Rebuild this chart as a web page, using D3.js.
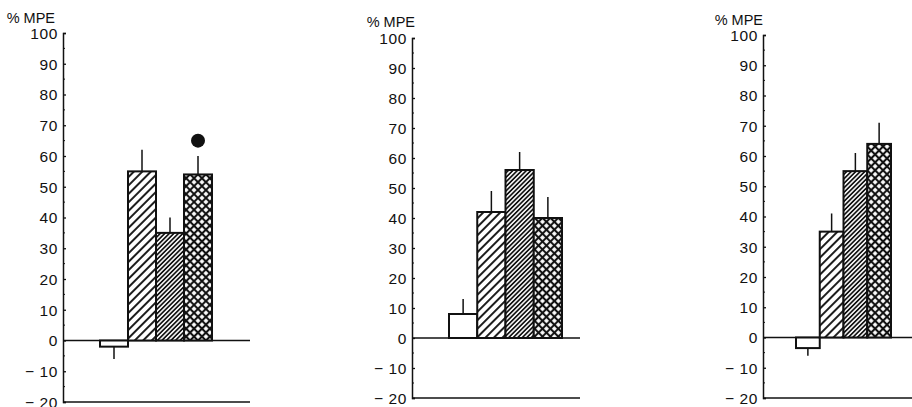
<!DOCTYPE html>
<meta charset="utf-8">
<style>
  body { margin: 0; background: #fff; }
  text { font-family: 'Liberation Sans', Arial, sans-serif; fill: #111; }
</style>
<script src="https://d3js.org/d3.v7.min.js"></script>
<div id="my_dataviz"></div>
<script>

// data
var treatments = ["saline", "dose1", "dose2", "dose3"];
var panelNames = ["A", "B", "C"];
var meansA = [-2, 55, 35, 54];
var meansB = [8, 42, 56, 40];
var meansC = [-3.5, 35, 55, 64];
var semA = [4, 7, 5, 6];
var semB = [5, 7, 6, 7];
var semC = [2.5, 6, 6, 7];
var yTicks = [-20, -10, 0, 10, 20, 30, 40, 50, 60, 70, 80, 90, 100];
var yMinor = [-15, -5, 5, 15, 25, 35, 45, 55, 65, 75, 85, 95];
var markers = [{panel: "A", treatment: "dose3", value: 65}];

var means = [meansA, meansB, meansC];
var sems = [semA, semB, semC];

// where each panel sits on the page
var layout = [
  {axisX: 63,  top: 33, bottom: 402, bar0: 100, bar1: 212, end: 250, labX: 55,  labY: 23},
  {axisX: 412, top: 38, bottom: 398, bar0: 449, bar1: 562, end: 580, labX: 415, labY: 27},
  {axisX: 763, top: 35, bottom: 398, bar0: 796, bar1: 891, end: 912, labX: 763, labY: 25}
];

var svg = d3.select("#my_dataviz")
  .append("svg")
    .attr("width", 912)
    .attr("height", 407);

// hatch patterns
var defs = svg.append("defs");
function hatch(id, size, width, cross) {
  var p = defs.append("pattern")
    .attr("id", id)
    .attr("patternUnits", "userSpaceOnUse")
    .attr("width", size)
    .attr("height", size)
    .attr("patternTransform", "rotate(45)");
  p.append("rect").attr("width", size).attr("height", size).attr("fill", "#fff");
  p.append("line")
    .attr("x1", 0).attr("y1", 0).attr("x2", 0).attr("y2", size)
    .attr("stroke", "#111").attr("stroke-width", width);
  p.append("line")
    .attr("x1", size).attr("y1", 0).attr("x2", size).attr("y2", size)
    .attr("stroke", "#111").attr("stroke-width", width);
  if (cross) {
    p.append("line")
      .attr("x1", 0).attr("y1", 0).attr("x2", size).attr("y2", 0)
      .attr("stroke", "#111").attr("stroke-width", width);
    p.append("line")
      .attr("x1", 0).attr("y1", size).attr("x2", size).attr("y2", size)
      .attr("stroke", "#111").attr("stroke-width", width);
  }
}
hatch("wide", 6, 1.9, false);
hatch("dense", 3.2, 1.7, false);
hatch("cross", 5.6, 2.1, true);

var fills = {saline: "#fff", dose1: "url(#wide)", dose2: "url(#dense)", dose3: "url(#cross)"};

panelNames.forEach(function(name, i) {
  var L = layout[i];
  var g = svg.append("g");

  var y = d3.scaleLinear()
    .domain([-20, 100])
    .range([L.bottom, L.top]);

  var x = d3.scaleBand()
    .domain(treatments)
    .range([L.bar0, L.bar1])
    .paddingInner(0);

  // Y axis
  var ax = g.append("g")
    .attr("transform", "translate(" + L.axisX + ",0)")
    .call(d3.axisLeft(y)
      .tickValues(yTicks)
      .tickSize(-3)
      .tickPadding(5)
      .tickFormat(function(d) { return d < 0 ? "\u2212 " + Math.abs(d) : d; }));
  ax.attr("font-size", null).attr("font-family", null);
  ax.select(".domain").attr("stroke", "#111").attr("stroke-width", 1.5);
  ax.selectAll(".tick line").attr("stroke", "#111").attr("stroke-width", 1.3);
  ax.selectAll(".tick text")
    .attr("dy", "0.35em")
    .style("font-size", "15.5px")
    .style("letter-spacing", "0.6px");

  // minor ticks
  g.append("g").selectAll("line")
    .data(yMinor)
    .enter()
    .append("line")
      .attr("x1", L.axisX).attr("x2", L.axisX + 2)
      .attr("y1", function(d) { return y(d); })
      .attr("y2", function(d) { return y(d); })
      .attr("stroke", "#111");

  // zero line and bottom line
  g.append("line")
    .attr("x1", L.axisX).attr("x2", L.end)
    .attr("y1", y(0)).attr("y2", y(0))
    .attr("stroke", "#111").attr("stroke-width", 1.3);
  g.append("line")
    .attr("x1", L.axisX).attr("x2", L.end)
    .attr("y1", y(-20)).attr("y2", y(-20))
    .attr("stroke", "#111").attr("stroke-width", 1.3);

  var rows = treatments.map(function(t, j) {
    return {t: t, m: means[i][j], e: sems[i][j]};
  });

  // error bars (one-sided)
  g.append("g").selectAll("line")
    .data(rows)
    .enter()
    .append("line")
      .attr("x1", function(d) { return x(d.t) + x.bandwidth() / 2; })
      .attr("x2", function(d) { return x(d.t) + x.bandwidth() / 2; })
      .attr("y1", function(d) { return y(d.m); })
      .attr("y2", function(d) { return y(d.m < 0 ? d.m - d.e : d.m + d.e); })
      .attr("stroke", "#111").attr("stroke-width", 1.5);

  // bars
  g.append("g").selectAll("rect")
    .data(rows)
    .enter()
    .append("rect")
      .attr("x", function(d) { return x(d.t); })
      .attr("width", x.bandwidth())
      .attr("y", function(d) { return y(Math.max(0, d.m)); })
      .attr("height", function(d) { return Math.abs(y(d.m) - y(0)); })
      .attr("fill", function(d) { return fills[d.t]; })
      .attr("stroke", "#111")
      .attr("stroke-width", 2);

  // significance dots
  g.append("g").selectAll("circle")
    .data(markers.filter(function(m) { return m.panel === name; }))
    .enter()
    .append("circle")
      .attr("cx", function(d) { return x(d.treatment) + x.bandwidth() / 2; })
      .attr("cy", function(d) { return y(d.value); })
      .attr("r", 7)
      .attr("fill", "#111");

  g.append("text")
    .attr("x", L.labX)
    .attr("y", L.labY)
    .attr("text-anchor", "end")
    .style("font-size", "14.5px")
    .text("% MPE");
});

</script>
